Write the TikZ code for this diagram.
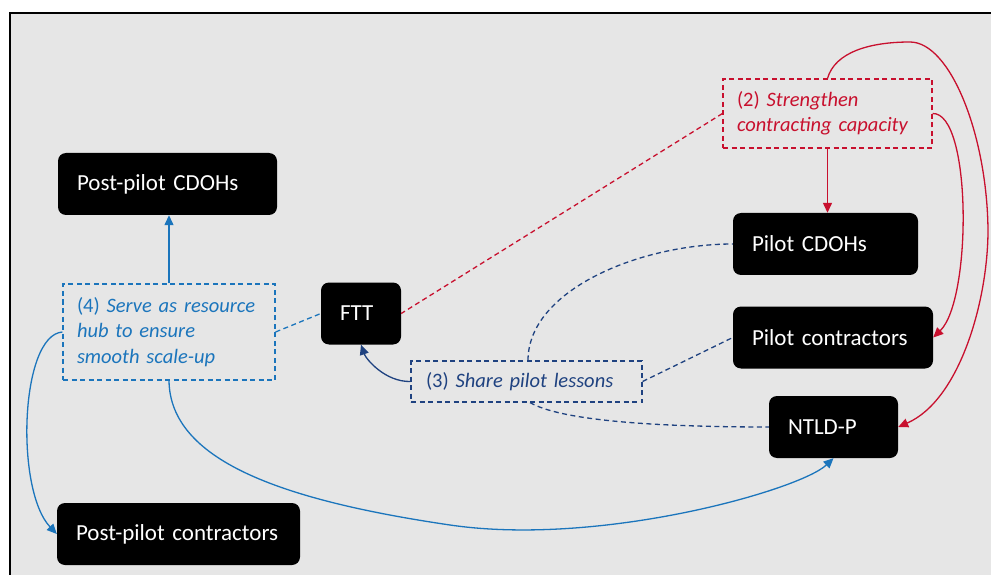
\documentclass[tikz,border=0pt]{standalone}
\usepackage{fontspec}
\setmainfont{Carlito}[WordSpace=0.8]
\usetikzlibrary{arrows.meta}
\definecolor{panel}{HTML}{E6E6E6}
\definecolor{redc}{HTML}{C8102E}
\definecolor{bluec}{HTML}{1B75BC}
\definecolor{navyc}{HTML}{1F4280}
\begin{document}
\begin{tikzpicture}[x=1pt,y=1pt,
  actor/.style={fill=black, text=white, rounded corners=8pt, inner xsep=19pt, inner ysep=0pt,
    minimum height=62pt, align=left, font=\fontsize{23}{26}\selectfont},
  role/.style={draw, line width=1.1pt, dash pattern=on 5pt off 3.5pt, inner xsep=14pt, inner ysep=0pt,
    align=left, font=\fontsize{20.5}{25.5}\selectfont\itshape},
  link/.style={line width=1.3pt},
  dlink/.style={line width=1.3pt, dash pattern=on 5pt off 3.5pt},
  tip/.style={-{Triangle[length=10pt,width=9pt]}}]
\useasboundingbox (0,0) rectangle (991,574);
% framed panel
\fill[white] (0,0) rectangle (991,574);
\draw[fill=panel, line width=1.5pt] (10,561) rectangle (1005,-10);

% organisations
\node[actor, text width=181pt] (postcdoh) at (167.5,390) {Post-pilot CDOHs};
\node[actor, text width=147pt] (pilotcdoh) at (825.5,330) {Pilot CDOHs};
\node[actor, text width=162pt] (pilotcon) at (833,236.5) {Pilot contractors};
\node[actor, text width=91pt] (ntldp) at (833.5,147) {NTLD-P};
\node[actor, text width=42pt] (ftt) at (361,260.5) {FTT};
\node[actor, text width=205pt] (postcon) at (178.5,40) {Post-pilot contractors};

% roles
\node[role, draw=redc, text=redc, text width=181pt, minimum height=69pt] (c2) at (827.5,460.5)
  {\upshape(2)\itshape{} Strengthen\\contracting capacity};
\node[role, draw=bluec, text=bluec, text width=184pt, minimum height=96pt] (c4) at (169,242)
  {\upshape(4)\itshape{} Serve as resource\\hub to ensure\\smooth scale-up};
\node[role, draw=navyc, text=navyc, text width=201pt, inner xsep=15pt, minimum height=41pt] (c3) at (526.5,192.5)
  {\upshape(3)\itshape{} Share pilot lessons};

% (2) strengthen contracting capacity
\draw[redc, dlink] (c2.west) -- (ftt.east);
\draw[redc, link, tip] (c2.south) -- (c2.south |- pilotcdoh.north);
\draw[redc, link, tip] (c2.east) .. controls (972,462) and (972,274) .. (pilotcon.east);
\draw[redc, link, tip] (c2.north) .. controls (835,522) and (870,532) .. (910,532)
  .. controls (950,532) and (987,440) .. (988,344)
  .. controls (988,274) and (960,174) .. (ntldp.east);

% (4) resource hub
\draw[bluec, link, tip] (c4.north) -- (c4.north |- postcdoh.south);
\draw[bluec, dlink] (c4.east) -- (ftt.west);
\draw[bluec, link, tip] (c4.west) .. controls (20,239) and (15,84) .. (postcon.west);
\draw[bluec, link, tip] (c4.south) .. controls (170,114) and (280,74) .. (450,49)
  .. controls (600,27) and (800,84) .. (ntldp.south);

% (3) share pilot lessons
\draw[navyc, link, tip] (c3.west) .. controls (385,192) and (366,215) .. (ftt.south);
\draw[navyc, dlink] ([xshift=1.5pt]c3.north) .. controls (528,284) and (640,330) .. (pilotcdoh.west);
\draw[navyc, dlink] (c3.east) -- (pilotcon.west);
\draw[navyc, dlink] ([xshift=3.5pt]c3.south) .. controls (560,154) and (650,147) .. (ntldp.west);
\end{tikzpicture}
\end{document}
